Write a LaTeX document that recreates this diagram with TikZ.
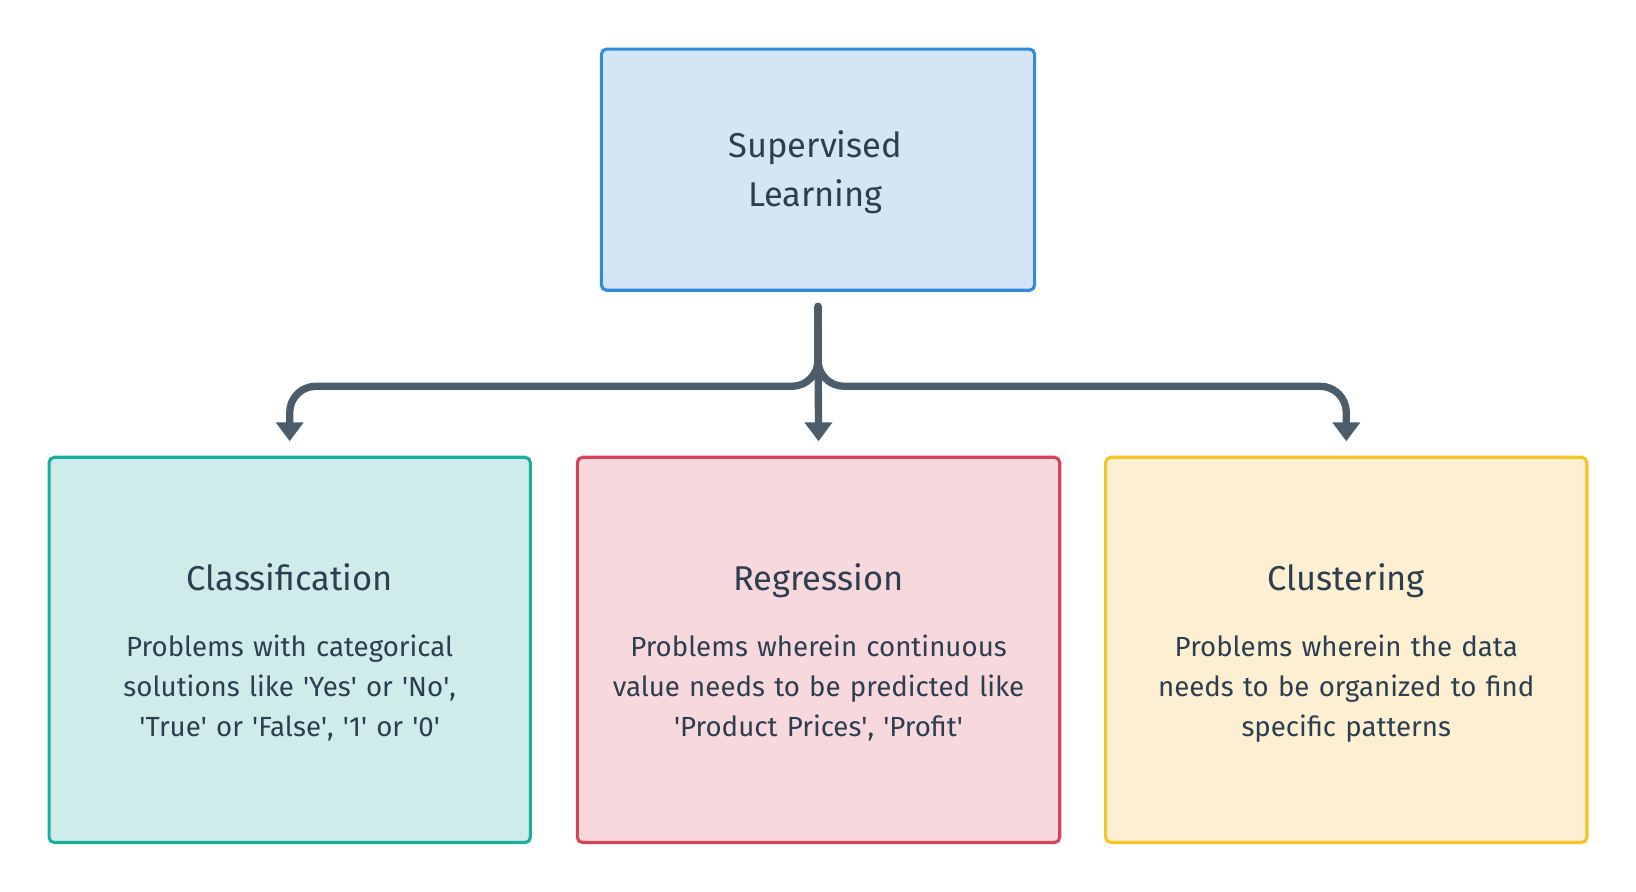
\documentclass[tikz,border=0pt]{standalone}
\usepackage{fontspec}
\setmainfont{Fira Sans}
\usetikzlibrary{arrows.meta}
\definecolor{topfill}{HTML}{D4E6F6}
\definecolor{topdraw}{HTML}{2F8BDD}
\definecolor{clsfill}{HTML}{CFECEA}
\definecolor{clsdraw}{HTML}{1AAE9F}
\definecolor{regfill}{HTML}{F7D8DD}
\definecolor{regdraw}{HTML}{D3455B}
\definecolor{clufill}{HTML}{FDF0D2}
\definecolor{cludraw}{HTML}{F7C325}
\definecolor{conncol}{HTML}{4B5D6B}
\definecolor{txtcol}{HTML}{2C3E50}
\newcommand{\sq}{\textquotesingle}
\tikzset{
  boxstyle/.style={draw, line width=3pt, rounded corners=5pt, inner sep=0pt},
  titlestyle/.style={anchor=base, text=txtcol, inner sep=0pt, font=\fontsize{33}{40}\selectfont},
  bodystyle/.style={anchor=base, text=txtcol, inner sep=0pt, align=center, text width=440pt, font=\fontsize{26.5}{38}\selectfont},
  connstyle/.style={draw=conncol, line width=7pt, line cap=round, rounded corners=25pt, -{Triangle[width=27pt,length=18pt,line width=0pt]}}
}
\begin{document}
\begin{tikzpicture}[x=1pt,y=-1pt]
\useasboundingbox (0,0) rectangle (1567,854);
% boxes
\node[boxstyle, fill=topfill, draw=topdraw, minimum width=415pt, minimum height=231pt] (sup) at (783.5,162.5) {};
\node[boxstyle, fill=clsfill, draw=clsdraw, minimum width=461pt, minimum height=369pt] (cls) at (277.5,622.5) {};
\node[boxstyle, fill=regfill, draw=regdraw, minimum width=462pt, minimum height=369pt] (reg) at (784,622.5) {};
\node[boxstyle, fill=clufill, draw=cludraw, minimum width=461pt, minimum height=369pt] (clu) at (1289.5,622.5) {};
% texts
\node[titlestyle, align=center, font=\fontsize{33}{47}\selectfont] (supt) at (781,198) {Supervised\\Learning};
\node[titlestyle] (clst) at (277.5,566) {Classification};
\node[titlestyle] (regt) at (784,566) {Regression};
\node[titlestyle] (clut) at (1289.5,566) {Clustering};
\node[bodystyle] (clsb) at (277.5,629) {Problems with categorical\\solutions like \sq Yes\sq{} or \sq No\sq,\\\sq True\sq{} or \sq False\sq, \sq 1\sq{} or \sq 0\sq};
\node[bodystyle] (regb) at (784,629) {Problems wherein continuous\\value needs to be predicted like\\\sq Product Prices\sq, \sq Profit\sq};
\node[bodystyle] (club) at (1289.5,629) {Problems wherein the data\\needs to be organized to find\\specific patterns};
% connectors
\coordinate (jn) at (783.5,370);
\draw[connstyle] ([yshift=-14pt]sup.south) -- ([yshift=14pt]reg.north);
\draw[connstyle] ([yshift=-14pt]sup.south) -- (jn) -| ([yshift=14pt]cls.north);
\draw[connstyle] ([yshift=-14pt]sup.south) -- (jn) -| ([yshift=14pt]clu.north);
\end{tikzpicture}
\end{document}
